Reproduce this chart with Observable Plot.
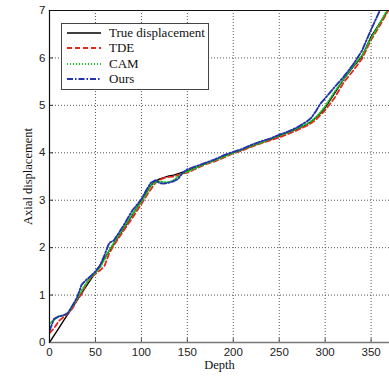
<!DOCTYPE html>
<html>
<head>
<meta charset="utf-8">
<script src="https://cdn.jsdelivr.net/npm/d3@7"></script>
<script src="https://cdn.jsdelivr.net/npm/@observablehq/plot@0.6"></script>
<style>
  html, body { margin: 0; padding: 0; background: #fff; }
  #wrap { position: relative; width: 389px; height: 378px; overflow: hidden; }
  #legend { position: absolute; left: 61px; top: 23px; width: 148px; height: 67px; box-sizing: border-box;
            border: 1px solid #444; background: #fff; font-family: "Liberation Serif", serif; font-size: 13px; color: #111; }
  .row { position: absolute; left: 5px; height: 15px; display: flex; align-items: center; }
  .row svg { width: 34px; height: 6px; margin-right: 8px; }
</style>
</head>
<body>
<div id="wrap"><div id="legend"></div></div>
<script>
const seriesNames = ["True displacement", "TDE", "CAM", "Ours"];
const seriesColors = ["#000000", "#e8241e", "#18c418", "#2335a8"];
const seriesDash = ["none", "5,3", "1,2", "6,2,1.5,2"];
const seriesWidth = [1.4, 1.8, 1.8, 1.9];

const depth = [0,5,10,15,20,25,30,35,40,45,50,55,60,65,70,80,90,100,105,110,115,120,125,130,135,140,145,150,160,170,180,190,200,210,220,230,240,250,260,270,280,285,290,295,300,310,320,330,340,350,360,370];

const trueDisp = [0,0.15,0.3,0.45,0.6,0.74,0.89,1.04,1.19,1.33,1.48,1.63,1.78,1.93,2.08,2.38,2.68,3.0,3.15,3.3,3.4,3.45,3.48,3.51,3.53,3.56,3.59,3.62,3.69,3.77,3.85,3.93,4.0,4.07,4.14,4.21,4.28,4.35,4.43,4.51,4.6,4.66,4.74,4.84,4.95,5.25,5.55,5.8,6.03,6.45,6.75,7.05];

const tde = [0.2,0.3,0.45,0.53,0.6,0.72,0.9,1.02,1.24,1.36,1.45,1.52,1.62,1.88,2.05,2.34,2.62,2.92,3.08,3.22,3.36,3.43,3.47,3.49,3.5,3.53,3.56,3.58,3.67,3.76,3.82,3.9,3.99,4.05,4.13,4.2,4.26,4.32,4.4,4.48,4.57,4.63,4.7,4.8,4.9,5.15,5.48,5.72,5.98,6.38,6.7,7.05];

const cam = [0.4,0.48,0.55,0.57,0.62,0.76,0.92,1.1,1.25,1.38,1.47,1.58,1.75,1.95,2.1,2.4,2.7,2.97,3.12,3.3,3.38,3.4,3.38,3.38,3.42,3.5,3.57,3.6,3.69,3.77,3.84,3.92,4.0,4.07,4.15,4.21,4.29,4.36,4.43,4.52,4.61,4.67,4.75,4.86,4.98,5.28,5.55,5.82,6.05,6.42,6.75,7.1];

const ours = [0.25,0.5,0.55,0.57,0.62,0.78,0.95,1.22,1.32,1.4,1.5,1.62,1.85,2.1,2.15,2.45,2.78,3.02,3.2,3.36,3.42,3.36,3.35,3.37,3.4,3.45,3.58,3.65,3.72,3.79,3.86,3.95,4.02,4.08,4.17,4.24,4.3,4.38,4.45,4.54,4.66,4.74,4.88,5.04,5.15,5.38,5.6,5.85,6.15,6.6,7.02,7.35];

const xTicks = [0,50,100,150,200,250,300,350];
const yTicks = [0,1,2,3,4,5,6,7];

const allSeries = [trueDisp, tde, cam, ours];
const rows = [];
allSeries.forEach((vals, s) => vals.forEach((v, i) => rows.push({series: seriesNames[s], depth: depth[i], value: v})));

const lineMarks = seriesNames.map((name, s) =>
  Plot.line(rows.filter(r => r.series === name), {
    x: "depth", y: "value", stroke: seriesColors[s], strokeWidth: seriesWidth[s],
    strokeDasharray: seriesDash[s], clip: true
  })
);

const chart = Plot.plot({
  width: 389, height: 378,
  marginLeft: 49, marginRight: 0, marginTop: 10, marginBottom: 36,
  style: {background: "#fff"},
  x: {domain: [0, 370]},
  y: {domain: [0, 7]},
  marks: [
    Plot.gridX(xTicks, {stroke: "#444", strokeOpacity: 0.9, strokeDasharray: "1,2"}),
    Plot.gridY(yTicks, {stroke: "#444", strokeOpacity: 0.9, strokeDasharray: "1,2"}),
    Plot.axisX(xTicks, {tickSize: 0, tickPadding: 5, fontSize: 11.5, fontFamily: "Liberation Sans, Arial, sans-serif", fill: "#222", label: null}),
    Plot.axisY(yTicks, {tickSize: 0, tickPadding: 4, fontSize: 11.5, fontFamily: "Liberation Sans, Arial, sans-serif", fill: "#222", label: null}),
    Plot.axisX(xTicks, {tickSize: -4, text: null, label: null, stroke: "#555"}),
    Plot.axisY(yTicks, {tickSize: -4, text: null, label: null, stroke: "#333"}),
    ...lineMarks,
    Plot.frame({anchor: "bottom", stroke: "#777", strokeWidth: 1.3}),
    Plot.frame({anchor: "left", stroke: "#111", strokeWidth: 1.2}),
    Plot.frame({anchor: "top", stroke: "#111", strokeWidth: 1.2}),
    Plot.text(["Depth"], {frameAnchor: "bottom", dy: 26, fontFamily: "Liberation Serif, serif", fontSize: 12.5, fill: "#111"}),
    Plot.text(["Axial displacement"], {frameAnchor: "left", dx: -22, rotate: -90, textAnchor: "middle", fontFamily: "Liberation Serif, serif", fontSize: 12.5, fill: "#111"})
  ]
});
document.getElementById("wrap").prepend(chart);

const legend = document.getElementById("legend");
seriesNames.forEach((name, s) => {
  const row = document.createElement("div");
  row.className = "row";
  row.style.top = (1 + s * 15.5) + "px";
  row.innerHTML = `<svg viewBox="0 0 34 6"><line x1="0" y1="3" x2="34" y2="3" stroke="${seriesColors[s]}" stroke-width="${seriesWidth[s]}" stroke-dasharray="${seriesDash[s]}"/></svg><span>${name}</span>`;
  legend.appendChild(row);
});
</script>
</body>
</html>
